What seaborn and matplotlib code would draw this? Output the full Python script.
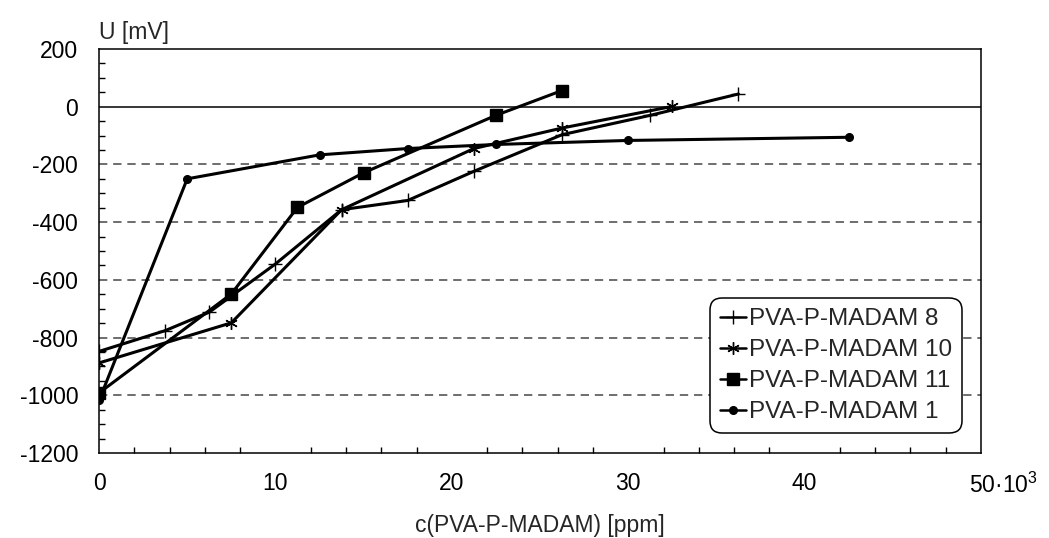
import numpy as np
import pandas as pd
import seaborn as sns
import matplotlib.pyplot as plt
from matplotlib.ticker import MultipleLocator, FixedLocator
from matplotlib.transforms import ScaledTranslation

# data (x in 10^3 ppm, y in mV)
x8 = [0, 3.75, 6.25, 10, 13.75, 17.5, 21.25, 26.25, 31.25, 36.25]
y8 = [-848, -776, -712, -545, -357, -325, -224, -97, -30, 44]

x10 = [0, 7.5, 13.75, 21.25, 26.25, 32.5]
y10 = [-888, -749, -357, -145, -74, 1]

x11 = [0, 7.5, 11.25, 15, 22.5, 26.25]
y11 = [-992, -649, -349, -229, -30, 56]

x1 = [0, 5, 12.5, 17.5, 22.5, 30, 42.5]
y1 = [-1018, -250, -167, -145, -131, -117, -106]

labels = ["PVA-P-MADAM 8", "PVA-P-MADAM 10", "PVA-P-MADAM 11", "PVA-P-MADAM 1"]
xticks = [0, 10, 20, 30, 40, 50]
xticklabels = ["0", "10", "20", "30", "40", "50·10$^3$"]
yticks = list(range(-1200, 201, 200))

sns.set_theme(style="white")
plt.rcParams["font.family"] = ["Liberation Sans", "DejaVu Sans"]
plt.rcParams["mathtext.default"] = "regular"
plt.rcParams["axes.unicode_minus"] = False

fs = 16.5

fig = plt.figure(figsize=(10.49, 5.38), dpi=100)
ax = fig.add_axes([0.0944, 0.158, 0.8408, 0.751])

# horizontal grid: dashed gray, solid black at zero
for yv in yticks:
    if yv == 0:
        ax.axhline(0, color="black", lw=1.1, zorder=1)
    elif -1200 < yv < 200:
        ax.axhline(yv, color="#555555", lw=1.2, ls=(0, (5, 3.5)), zorder=1)

styles = [
    dict(marker="+", markersize=10, markeredgewidth=1.0),
    dict(marker=(6, 2, 0), markersize=9, markeredgewidth=1.0),
    dict(marker="s", markersize=8, markeredgewidth=1.0),
    dict(marker="o", markersize=5.5, markeredgewidth=1.0),
]
series = [(x8, y8), (x10, y10), (x11, y11), (x1, y1)]

for (xs, ys), lab, st in zip(series, labels, styles):
    df = pd.DataFrame({"x": xs, "y": ys})
    sns.lineplot(data=df, x="x", y="y", ax=ax, sort=False, estimator=None,
                 color="black", lw=2.2, markerfacecolor="black",
                 markeredgecolor="black", label=lab, zorder=3, **st)

ax.set_xlim(0, 50)
ax.set_ylim(-1200, 200)

ax.xaxis.set_major_locator(FixedLocator(xticks))
ax.set_xticklabels(xticklabels)
ax.yaxis.set_major_locator(FixedLocator(yticks))
ax.set_yticklabels([str(v) for v in yticks])
ax.xaxis.set_minor_locator(MultipleLocator(2))
ax.yaxis.set_minor_locator(MultipleLocator(50))

ax.tick_params(which="major", length=0, labelsize=fs, colors="black")
ax.tick_params(axis="x", which="major", pad=14)
ax.tick_params(axis="y", which="major", pad=15)
ax.tick_params(which="minor", direction="in", length=4.5, width=1.0,
               color="black", bottom=True, left=True, top=False, right=False)

# shift the last x label like in the reference
last = ax.get_xticklabels()[-1]
last.set_transform(last.get_transform() + ScaledTranslation(22 / 100, 0, fig.dpi_scale_trans))

for sp in ax.spines.values():
    sp.set_color("black")
    sp.set_linewidth(1.1)
    sp.set_visible(True)

ax.set_xlabel("c(PVA-P-MADAM) [ppm]", fontsize=fs, labelpad=12)
ax.set_ylabel("")
ax.text(0.0, 1.012, "U [mV]", transform=ax.transAxes, ha="left", va="bottom",
        fontsize=fs)

leg = ax.legend(loc="lower right", bbox_to_anchor=(0.978, 0.05),
                borderaxespad=0, prop={"size": 17.5}, frameon=True, fancybox=True,
                handlelength=1.1, handletextpad=0.1, labelspacing=0.37,
                borderpad=0.4, edgecolor="black", framealpha=1)
leg.get_frame().set_linewidth(1.1)
leg.get_frame().set_boxstyle("round,pad=0,rounding_size=0.5")
for line in leg.get_lines():
    line.set_linewidth(1.8)

fig.savefig("out.png", dpi=100)
